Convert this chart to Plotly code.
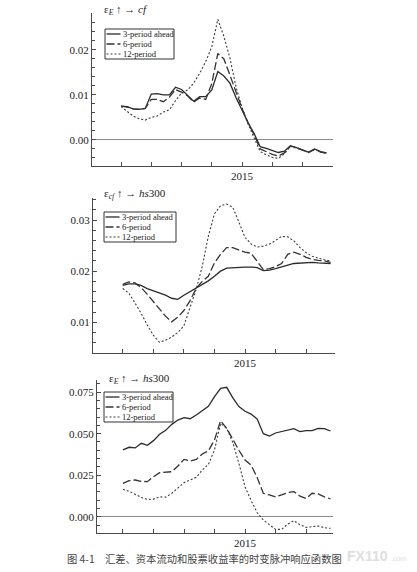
import plotly.graph_objects as go

W, H = 417, 572

# time axis (decimal years), shared by the three panels
dates = [2014.00, 2014.05, 2014.10, 2014.15, 2014.20, 2014.25, 2014.30,
         2014.35, 2014.40, 2014.45, 2014.50, 2014.55, 2014.60, 2014.65,
         2014.70, 2014.75, 2014.80, 2014.85, 2014.90, 2014.95, 2015.00,
         2015.05, 2015.10, 2015.15, 2015.20, 2015.25, 2015.30, 2015.35,
         2015.40, 2015.45, 2015.50, 2015.55, 2015.60, 2015.65, 2015.70]

series_names = ["3-period ahead", "6-period", "12-period"]

# panel 1: eps_E -> cf   (values x 1e-3)
cf_3 = [7.5, 7.4, 6.9, 6.8, 7.0, 10.2, 10.3, 10.0, 10.0, 11.7, 11.2, 10.0,
        8.6, 9.6, 9.6, 11.1, 15.2, 14.2, 12.6, 9.4, 6.6, 3.8, 1.4,
        -1.5, -1.9, -2.4, -2.8, -2.5, -1.3, -1.7, -2.2, -2.7, -2.0, -2.6, -2.9]
cf_6 = [7.5, 7.3, 6.9, 6.8, 7.0, 9.0, 9.0, 8.5, 9.5, 11.2, 10.6, 9.8,
        8.4, 9.3, 9.0, 12.5, 19.2, 18.0, 14.4, 10.5, 7.0, 3.8, 1.2,
        -2.0, -2.6, -3.2, -3.6, -2.9, -1.4, -1.7, -2.3, -2.8, -2.1, -2.7, -3.0]
cf_12 = [7.4, 6.3, 5.3, 4.7, 4.4, 5.0, 5.3, 6.2, 6.7, 8.7, 10.4, 11.1,
         12.6, 14.8, 17.4, 20.7, 26.8, 23.0, 18.2, 11.8, 7.2, 3.5, 0.3,
         -2.6, -3.3, -3.9, -4.1, -3.1, -1.4, -1.8, -2.3, -2.8, -2.1, -2.7, -3.0]

# panel 2: eps_cf -> hs300
hcf_3 = [17.2, 17.5, 17.5, 17.2, 16.6, 16.2, 15.8, 15.3, 14.7, 14.5, 15.3, 16.0,
         16.6, 17.3, 18.1, 19.0, 20.0, 20.6, 20.7, 20.8, 20.8, 20.8, 20.7,
         20.1, 20.2, 20.5, 20.9, 21.2, 21.5, 21.6, 21.7, 21.7, 21.6, 21.6, 21.5]
hcf_6 = [17.4, 17.9, 17.7, 16.8, 15.5, 14.0, 12.7, 11.2, 10.1, 11.0, 12.3, 14.2,
         16.6, 18.0, 19.0, 21.6, 23.3, 24.6, 24.6, 24.1, 23.7, 23.5, 21.8,
         20.3, 20.5, 20.9, 21.5, 23.3, 23.7, 23.3, 22.7, 22.3, 22.1, 22.0, 21.7]
hcf_12 = [16.6, 15.7, 13.8, 11.8, 9.5, 7.5, 6.1, 6.5, 7.1, 8.0, 9.3, 12.9,
          16.4, 20.9, 26.8, 31.2, 32.8, 33.1, 32.5, 29.6, 26.6, 25.3, 24.7,
          24.9, 25.3, 26.0, 26.8, 26.7, 25.9, 24.6, 23.6, 22.9, 22.5, 22.2, 22.0]

# panel 3: eps_E -> hs300
he_3 = [40.2, 41.8, 41.4, 44.2, 43.0, 45.8, 49.6, 52.0, 55.6, 58.2, 59.6, 59.0,
        61.2, 63.9, 66.5, 72.3, 77.3, 77.9, 71.5, 66.3, 63.5, 61.8, 58.8,
        50.0, 48.5, 50.4, 51.2, 52.0, 53.0, 51.2, 51.8, 51.8, 53.2, 53.0, 51.6]
he_6 = [20.1, 21.7, 22.1, 21.3, 21.1, 24.1, 26.5, 26.9, 27.1, 30.5, 34.5, 33.5,
        34.5, 37.8, 39.6, 46.2, 57.8, 53.2, 46.2, 40.0, 34.1, 31.1, 23.5,
        14.1, 13.1, 12.0, 13.1, 14.5, 15.1, 12.4, 11.0, 14.1, 13.7, 12.0, 10.8]
he_12 = [16.5, 15.3, 13.5, 11.6, 10.4, 10.6, 12.0, 11.8, 14.1, 17.3, 20.5, 22.1,
         23.7, 28.1, 31.5, 40.2, 56.2, 53.2, 44.6, 32.1, 17.9, 9.8, 2.4,
         -2.0, -4.8, -7.6, -7.6, -4.4, -2.4, -4.8, -6.4, -6.0, -5.6, -6.6, -7.0]

x_label_val = [2015.0]
x_label_text = ["2015"]

panel_titles = ["ε<sub><i>E</i></sub> ↑ → <i>cf</i>",
                "ε<sub><i>cf</i></sub> ↑ → <i>hs</i>300",
                "ε<sub><i>E</i></sub> ↑ → <i>hs</i>300"]

caption = "图 4-1\u2003汇差、资本流动和股票收益率的时变脉冲响应函数图"

# layout: plot boxes in pixels (left, top, right, bottom)
boxes = [(92, 13, 333, 166), (93, 198, 335, 353), (97, 380, 333, 533)]
xranges = [[2013.76, 2015.752], [2013.757, 2015.736], [2013.787, 2015.721]]
yranges = [[-0.0058, 0.0282], [0.0040, 0.0343], [-0.0098, 0.0823]]
ydticks = [0.01, 0.01, 0.025]
yminor = [0.002, 0.002, 0.005]
yfmt = [".2f", ".2f", ".3f"]
title_pos = [(102, 10), (102, 194), (107, 379)]
legend_boxes = [(105, 29, 174, 59), (104, 212, 176, 242), (104, 392, 173, 422)]

dashes = ["solid", "8px,3px", "2px,2px"]
widths = [1.3, 1.3, 1.1]
colors = ["#2a2a2a", "#333333", "#3c3c3c"]

SERIF = "Liberation Serif"
AX = "#4a4a4a"


def px(x):
    return x / W


def py(y):
    return 1 - y / H


panels = [(cf_3, cf_6, cf_12), (hcf_3, hcf_6, hcf_12), (he_3, he_6, he_12)]

fig = go.Figure()
shapes = []
annotations = []

for k, group in enumerate(panels):
    sfx = "" if k == 0 else str(k + 1)
    for j, vals in enumerate(group):
        fig.add_trace(go.Scatter(
            x=dates, y=[v / 1000 for v in vals], mode="lines",
            name=series_names[j], showlegend=False,
            line=dict(color=colors[j], width=widths[j], dash=dashes[j]),
            xaxis="x" + sfx, yaxis="y" + sfx))

    l, t, r, b = boxes[k]
    fig.update_layout(**{
        "xaxis" + sfx: dict(
            domain=[px(l), px(r)], range=xranges[k], anchor="y" + sfx,
            tickmode="array", tickvals=x_label_val, ticktext=x_label_text,
            ticks="inside", ticklen=4, tickcolor=AX, tickwidth=1,
            minor=dict(tickmode="linear", tick0=2014, dtick=0.25,
                       ticks="inside", ticklen=4, tickcolor=AX, tickwidth=1),
            showline=True, linecolor=AX, linewidth=1,
            showgrid=False, zeroline=False,
            tickfont=dict(family=SERIF, size=11, color="#222")),
        "yaxis" + sfx: dict(
            domain=[py(b), py(t)], range=yranges[k], anchor="x" + sfx,
            tickmode="linear", tick0=0, dtick=ydticks[k], tickformat=yfmt[k],
            ticks="inside", ticklen=4, tickcolor=AX, tickwidth=1,
            minor=dict(dtick=yminor[k], tick0=0, ticks="inside", ticklen=2.5,
                       tickcolor=AX, tickwidth=1),
            showline=True, linecolor=AX, linewidth=1,
            showgrid=False,
            zeroline=(k != 1), zerolinecolor="#8a8a8a", zerolinewidth=1,
            tickfont=dict(family=SERIF, size=11, color="#222")),
    })

    tx, ty = title_pos[k]
    annotations.append(dict(
        text=panel_titles[k], xref="paper", yref="paper", x=px(tx), y=py(ty),
        xanchor="left", yanchor="middle", showarrow=False,
        font=dict(family=SERIF, size=11, color="#222")))

    # boxed legend
    bl, bt, br, bb = legend_boxes[k]
    shapes.append(dict(type="rect", xref="paper", yref="paper",
                       x0=px(bl), x1=px(br), y0=py(bb), y1=py(bt),
                       line=dict(color="#333", width=1), fillcolor="white",
                       layer="above"))
    row_h = (bb - bt) / 3
    for j in range(3):
        ry = bt + row_h * (j + 0.5)
        shapes.append(dict(type="line", xref="paper", yref="paper",
                           x0=px(bl + 1.5), x1=px(bl + 15.5), y0=py(ry), y1=py(ry),
                           line=dict(color=colors[j], width=widths[j], dash=dashes[j]),
                           layer="above"))
        annotations.append(dict(
            text=series_names[j], xref="paper", yref="paper",
            x=px(bl + 16), y=py(ry), xanchor="left", yanchor="middle",
            showarrow=False, font=dict(family=SERIF, size=8.5, color="#1a1a1a")))

annotations.append(dict(
    text=caption, xref="paper", yref="paper", x=px(65), y=py(558),
    xanchor="left", yanchor="middle", showarrow=False,
    font=dict(family="Noto Sans CJK SC", size=10.3, color="#444")))
annotations.append(dict(
    text="<b>FX110</b>", xref="paper", yref="paper", x=px(345), y=py(556),
    xanchor="left", yanchor="middle", showarrow=False,
    font=dict(family="Liberation Sans", size=14, color="#dedede")))
annotations.append(dict(
    text=".com", xref="paper", yref="paper", x=px(389), y=py(558),
    xanchor="left", yanchor="middle", showarrow=False,
    font=dict(family="Liberation Sans", size=7, color="#e2e2e2")))

fig.update_layout(
    width=W, height=H,
    margin=dict(l=0, r=0, t=0, b=0),
    paper_bgcolor="white", plot_bgcolor="white",
    shapes=shapes, annotations=annotations,
)

fig.write_html("out.html", config={"displayModeBar": False},
               post_script="document.body.style.margin='0';")
